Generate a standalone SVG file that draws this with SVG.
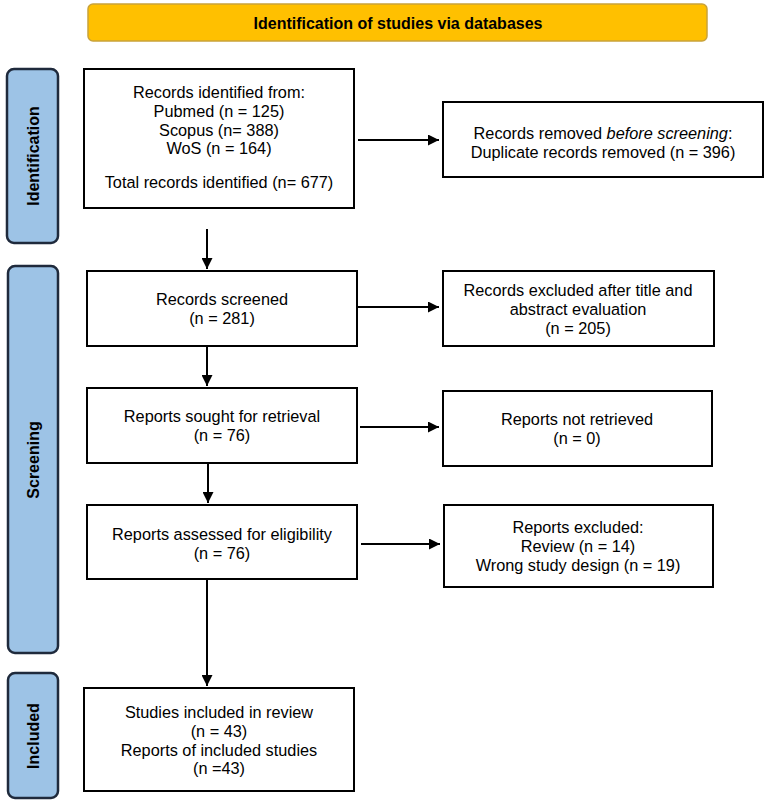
<svg xmlns="http://www.w3.org/2000/svg" width="765" height="803" viewBox="0 0 765 803">
<defs>
<marker id="arr" viewBox="0 0 10 10" refX="10" refY="5" markerWidth="11" markerHeight="11" markerUnits="userSpaceOnUse" orient="auto">
<path d="M0,0 L10,5 L0,10 Z" fill="#000"/>
</marker>
<style>
.box{fill:#fff;stroke:#000;stroke-width:2}
.bar{fill:#9DC3E6;stroke:#1F2A3C;stroke-width:2.5}
.t{font-family:"Liberation Sans",Arial,sans-serif;font-size:16.3px;text-anchor:middle;fill:#000}
.b{font-family:"Liberation Sans",Arial,sans-serif;font-size:16px;font-weight:bold;text-anchor:middle;fill:#000}
.c{stroke:#000;stroke-width:2;fill:none;marker-end:url(#arr)}
</style>
</defs>
<rect width="765" height="803" fill="#fff"/>
<g id="header">
<rect x="88" y="4" width="619" height="37" rx="5" fill="#FFC000" stroke="#C9A23A" stroke-width="1.5"/>
<text class="b" x="398" y="29">Identification of studies via databases</text>
</g>
<g id="bar-identification">
<rect class="bar" x="7" y="69" width="51" height="174" rx="7"/>
<text class="b" transform="translate(39,156) rotate(-90)">Identification</text>
</g>
<g id="bar-screening">
<rect class="bar" x="8" y="266" width="50" height="387" rx="7"/>
<text class="b" transform="translate(39,460) rotate(-90)">Screening</text>
</g>
<g id="bar-included">
<rect class="bar" x="8" y="673" width="50" height="125" rx="7"/>
<text class="b" transform="translate(39,736) rotate(-90)">Included</text>
</g>
<g id="records-identified">
<rect class="box" x="84" y="69" width="270" height="139"/>
<text class="t" x="219" y="98">Records identified from:</text>
<text class="t" x="219" y="117">Pubmed (n = 125)</text>
<text class="t" x="219" y="136">Scopus (n= 388)</text>
<text class="t" x="219" y="154">WoS (n = 164)</text>
<text class="t" x="219" y="188">Total records identified (n= 677)</text>
</g>
<g id="records-removed">
<rect class="box" x="443" y="102" width="320" height="75"/>
<text class="t" x="603" y="139">Records removed <tspan font-style="italic">before screening</tspan>:</text>
<text class="t" x="603" y="158">Duplicate records removed (n = 396)</text>
</g>
<g id="records-screened">
<rect class="box" x="87" y="271" width="270" height="75"/>
<text class="t" x="222" y="305">Records screened</text>
<text class="t" x="222" y="324">(n = 281)</text>
</g>
<g id="records-excluded">
<rect class="box" x="443" y="271" width="271" height="75"/>
<text class="t" x="578" y="296">Records excluded after title and</text>
<text class="t" x="578" y="315">abstract evaluation</text>
<text class="t" x="578" y="334">(n = 205)</text>
</g>
<g id="reports-sought">
<rect class="box" x="87" y="388" width="270" height="75"/>
<text class="t" x="222" y="422">Reports sought for retrieval</text>
<text class="t" x="222" y="441">(n = 76)</text>
</g>
<g id="reports-not-retrieved">
<rect class="box" x="443" y="391" width="269" height="75"/>
<text class="t" x="577" y="425">Reports not retrieved</text>
<text class="t" x="577" y="444">(n = 0)</text>
</g>
<g id="reports-assessed">
<rect class="box" x="87" y="505" width="270" height="74"/>
<text class="t" x="222" y="540">Reports assessed for eligibility</text>
<text class="t" x="222" y="559">(n = 76)</text>
</g>
<g id="reports-excluded">
<rect class="box" x="444" y="505" width="269" height="82"/>
<text class="t" x="578" y="533">Reports excluded:</text>
<text class="t" x="578" y="552">Review (n = 14)</text>
<text class="t" x="578" y="571">Wrong study design (n = 19)</text>
</g>
<g id="studies-included">
<rect class="box" x="84" y="688" width="270" height="103"/>
<text class="t" x="219" y="718">Studies included in review</text>
<text class="t" x="219" y="737">(n = 43)</text>
<text class="t" x="219" y="756">Reports of included studies</text>
<text class="t" x="219" y="774">(n =43)</text>
</g>
<g id="connectors">
<line class="c" x1="358" y1="140" x2="439" y2="140"/>
<line class="c" x1="207" y1="229" x2="207" y2="269"/>
<line class="c" x1="358" y1="307" x2="439" y2="307"/>
<line class="c" x1="207" y1="347" x2="207" y2="386"/>
<line class="c" x1="360" y1="427" x2="439" y2="427"/>
<line class="c" x1="208" y1="463" x2="208" y2="503"/>
<line class="c" x1="361" y1="544" x2="440" y2="544"/>
<line class="c" x1="207" y1="580" x2="207" y2="686"/>
</g>
</svg>
